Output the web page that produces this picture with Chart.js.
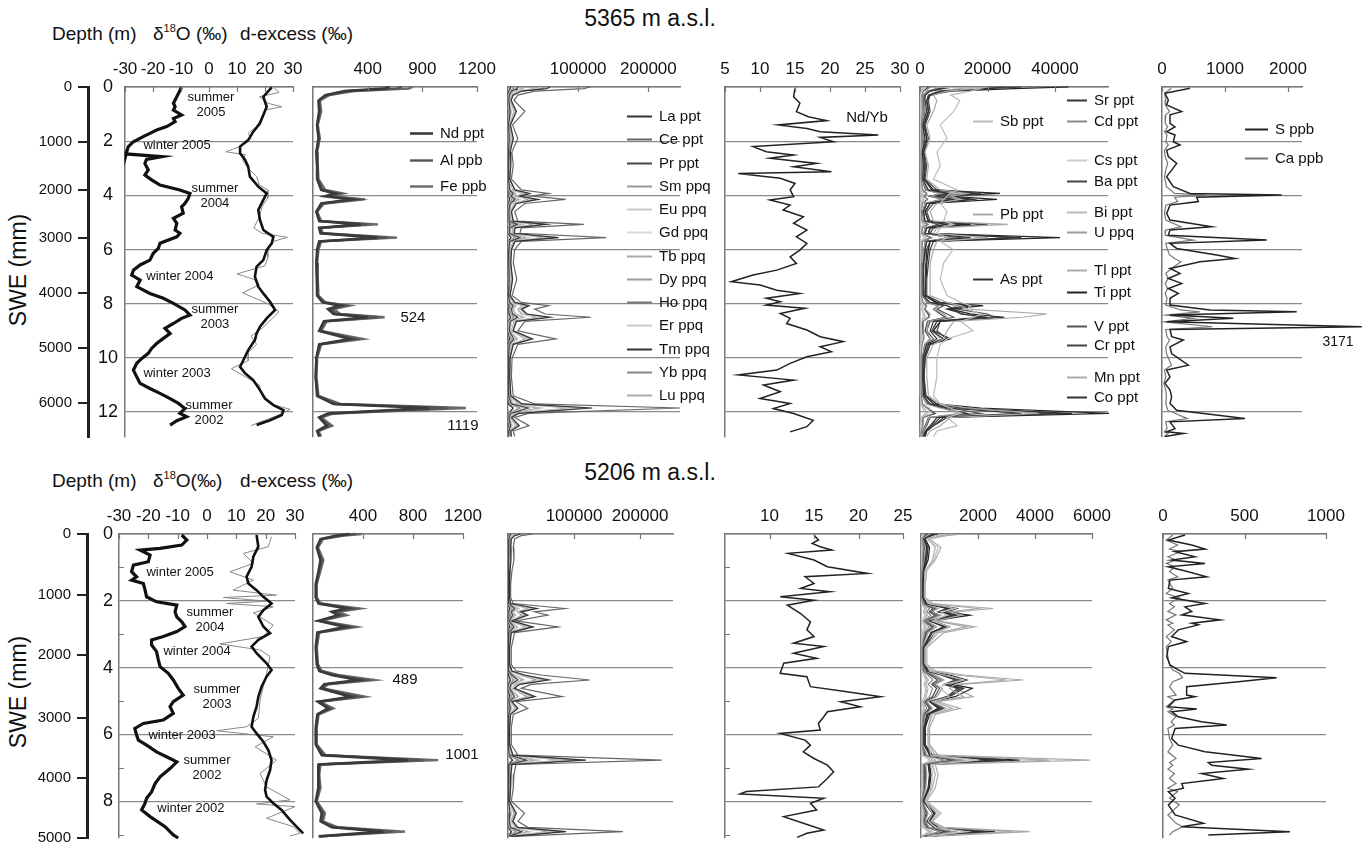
<!DOCTYPE html>
<html>
<head>
<meta charset="utf-8">
<script src="https://cdn.jsdelivr.net/npm/chart.js@4.4.0/dist/chart.umd.min.js"></script>
<style>
body{margin:0;background:#fff;width:1367px;height:849px;position:relative;overflow:hidden;font-family:"Liberation Sans",Arial,sans-serif;color:#111}
canvas{position:absolute}
.t{position:absolute;white-space:nowrap;line-height:1}
.c{transform:translate(-50%,-50%)}
.h{transform:translateY(-50%);font-size:19px}
.v{transform:translate(-50%,-50%) rotate(-90deg);font-size:23px}
.sup{font-size:11px;position:relative;top:-8px}
</style>
</head>
<body>
<div class="t c" style="left:650px;top:18px;font-size:23px">5365 m a.s.l.</div>
<div class="t h" style="left:52px;top:33px">Depth (m)</div>
<div class="t h" style="left:153px;top:33px">δ<span class="sup">18</span>O (‰)</div>
<div class="t h" style="left:240px;top:33px">d-excess (‰)</div>
<div class="t v" style="left:18px;top:270px">SWE (mm)</div>

<div class="t c" style="left:650px;top:472px;font-size:23px">5206 m a.s.l.</div>
<div class="t h" style="left:52px;top:480px">Depth (m)</div>
<div class="t h" style="left:153px;top:480px">δ<span class="sup">18</span>O(‰)</div>
<div class="t h" style="left:240px;top:480px">d-excess (‰)</div>
<div class="t v" style="left:18px;top:692px">SWE (mm)</div>

<script>
// ---------------- 5365 m a.s.l. (upper core) ----------------
const sweTicks5365 = [0, 1000, 2000, 3000, 4000, 5000, 6000];
const sweDepth5365 = [0, 2.03, 3.80, 5.58, 7.61, 9.64, 11.67];

const d18oDepth5365 = [0.01,0.36,0.60,0.73,0.85,1.03,1.16,1.28,1.46,1.59,1.71,1.83,2.02,2.20,2.39,2.47,2.57,2.67,2.82,3.06,3.25,3.43,3.62,3.80,3.93,4.11,4.30,4.42,4.66,4.85,5.03,5.28,5.40,5.53,5.77,5.96,6.14,6.39,6.57,6.76,6.94,7.13,7.37,7.62,7.80,7.99,8.23,8.42,8.54,8.73,8.91,9.10,9.28,9.47,9.65,9.83,10.02,10.20,10.45,10.70,10.94,11.13,11.31,11.50,11.68,11.87,12.05,12.17,12.32,12.48];
const d18o5365 = [-9.8,-11.5,-12.7,-12.1,-12.7,-9.8,-12.7,-12.1,-15.1,-18.7,-21.1,-23.5,-27.0,-28.8,-29.4,-29.6,-16.9,-22.3,-22.9,-21.7,-22.9,-20.5,-17.5,-10.4,-6.8,-7.4,-8.6,-9.8,-9.2,-12.7,-11.5,-12.1,-10.4,-11.5,-17.5,-18.1,-19.9,-21.1,-24.6,-27.0,-27.6,-24.6,-25.8,-21.1,-16.3,-12.7,-8.6,-6.8,-9.8,-12.7,-15.7,-13.9,-16.3,-18.7,-20.5,-21.7,-24.0,-25.8,-27.0,-25.8,-24.6,-21.1,-17.5,-13.9,-10.9,-8.6,-10.4,-8.0,-11.5,-13.9];

const dexDepth5365 = [0.01,0.36,0.73,1.03,1.34,1.65,1.96,2.20,2.45,2.69,2.94,3.31,3.68,3.93,4.17,4.54,4.91,5.28,5.53,5.77,6.02,6.39,6.63,7.00,7.37,7.62,7.93,8.23,8.54,8.85,9.10,9.34,9.71,10.08,10.33,10.57,10.82,11.19,11.50,11.74,11.93,12.11,12.30,12.48];
const dex5365 = [22.4,19.4,20.6,19.4,18.2,15.8,14.0,11.1,11.1,12.9,14.0,14.6,17.6,20.6,19.4,17.6,18.2,19.4,23.0,22.4,20.6,19.4,17.0,16.4,17.6,19.4,21.8,23.6,20.6,18.2,17.0,16.4,14.0,12.3,11.1,12.9,15.8,18.2,20.0,23.0,26.6,26.0,21.8,17.0];

const dexRawDepth5365 = [0.0,0.2,0.36,0.6,0.73,0.85,1.1,1.46,1.71,1.9,2.2,2.39,2.5,2.7,3.0,3.3,3.62,3.8,4.1,4.4,4.8,5.2,5.4,5.55,5.7,6.0,6.3,6.6,6.9,7.1,7.3,7.6,8.0,8.3,8.6,8.9,9.2,9.5,9.8,10.1,10.4,10.7,11.0,11.4,11.7,11.9,12.1,12.3,12.5];
const dexRaw5365 = [23,25,18,21,26,20,19,17,14,15,11,6,13,12,14,17,18,21,21,19,18,16,19,28,23,21,21,20,10,16,18,12,21,25,22,19,15,17,14,14,8,13,18,19,22,29,25,20,15];

const nodes5365 = [0,0.06,0.15,0.3,0.5,0.9,1.4,1.9,2.4,2.9,3.4,3.8,3.93,4.03,4.15,4.3,4.6,4.95,5.07,5.2,5.4,5.56,5.7,6.0,6.5,7.1,7.7,7.95,8.07,8.2,8.38,8.5,8.65,9.0,9.3,9.5,10.0,10.7,11.4,11.7,11.85,12.05,12.2,12.5,12.7,12.9];

const nd5365 = [560,520,230,90,40,45,30,40,25,30,30,60,160,90,280,60,25,45,350,45,55,470,45,30,25,28,30,70,200,110,150,400,80,45,270,45,25,20,30,150,850,110,45,100,30,45];
const al5365 = [650,610,260,100,45,50,30,45,25,30,35,70,190,100,330,70,25,50,400,50,60,540,50,35,25,30,35,80,230,130,170,470,90,50,310,50,25,20,35,170,980,130,50,120,35,50];
const fe5365 = [730,700,300,120,50,60,35,50,30,35,40,90,220,120,380,80,30,60,475,60,70,615,60,40,30,35,40,90,270,150,200,524,100,60,366,60,30,25,40,200,1119,150,60,140,40,60];

const la5365 = [60000,55000,20000,7000,4500,12000,3500,7500,3000,4000,2500,10000,31000,17000,43000,12000,5000,7500,55000,10000,9000,72000,10000,5000,4000,6500,3000,10000,30000,20000,27000,60000,12000,7500,35000,7500,3000,2500,4000,20000,120000,15000,5000,16000,4000,5000];
const ce5365 = [117000,108000,38000,14000,8500,24000,6500,14000,5500,7500,4800,19000,58000,33000,82000,24000,9500,14000,108000,19000,17000,140000,19000,9500,7500,12500,5800,19000,58000,38000,53000,118000,24000,14000,68000,14000,5800,4800,7500,38000,245000,29000,9500,30000,7500,9500];
const pr5365 = [14000,13000,5000,1800,1100,3000,800,1800,700,1000,600,2400,7200,4200,10000,3000,1200,1800,13000,2400,2200,17000,2400,1200,1000,1600,700,2400,7200,4800,6600,14000,3000,1800,8400,1800,700,600,1000,4800,29000,3600,1200,3700,1000,1200];
const sm5365 = [52000,50000,19000,7000,4000,11000,3000,7000,2500,3500,2200,9500,27000,16000,38000,11000,4500,7000,52000,9000,8000,64000,9000,4500,3500,6000,2700,9000,27000,18000,25000,56000,11000,7000,32000,7000,2700,2200,3500,18000,110000,14000,4500,14000,3500,4500];
const eu5365 = [11000,10500,4000,1500,900,2500,700,1500,600,800,500,2000,6000,3400,8500,2500,1000,1500,11000,2000,1800,14000,2000,1000,800,1300,600,2000,6000,4000,5500,12000,2500,1500,7000,1500,600,500,800,4000,24000,3000,1000,3100,800,1000];
const gd5365 = [46000,44000,16000,6000,3600,9500,2800,6000,2200,3000,2000,8000,24000,14000,34000,10000,4000,6000,44000,8000,7000,58000,8000,4000,3200,5200,2400,8000,24000,16000,22000,48000,10000,6000,28000,6000,2400,2000,3200,16000,98000,12000,4000,12500,3200,4000];
const tb5365 = [7000,6600,2400,900,500,1500,400,900,350,480,300,1200,3600,2100,5000,1500,600,900,6600,1200,1100,8600,1200,600,480,800,360,1200,3600,2400,3300,7200,1500,900,4200,900,360,300,480,2400,15000,1800,600,1900,480,600];
const dy5365 = [41000,38000,14000,5200,3100,8500,2400,5200,1900,2600,1700,7000,21000,12000,29000,8700,3500,5200,38000,7000,6300,50000,7000,3500,2800,4500,2100,7000,21000,14000,19000,42000,8700,5200,24500,5200,2100,1700,2800,14000,86000,10000,3500,11000,2800,3500];
const ho5365 = [8200,7700,2800,1000,600,1700,500,1000,400,560,350,1400,4200,2400,5900,1700,700,1000,7700,1400,1300,10000,1400,700,560,900,420,1400,4200,2800,3800,8400,1700,1000,4900,1000,420,350,560,2800,17000,2000,700,2200,560,700];
const er5365 = [23000,22000,8000,3000,1800,5000,1400,3000,1100,1500,1000,4000,12000,7000,17000,5000,2000,3000,22000,4000,3600,29000,4000,2000,1600,2600,1200,4000,12000,8000,11000,24000,5000,3000,14000,3000,1200,1000,1600,8000,49000,6000,2000,6200,1600,2000];
const tm5365 = [3500,3300,1200,450,270,750,200,450,170,240,150,600,1800,1050,2500,750,300,450,3300,600,540,4300,600,300,240,400,180,600,1800,1200,1650,3600,750,450,2100,450,180,150,240,1200,7400,900,300,930,240,300];
const yb5365 = [21000,19800,7200,2700,1600,4500,1300,2700,1000,1400,900,3600,10800,6300,15000,4500,1800,2700,19800,3600,3200,26000,3600,1800,1400,2300,1100,3600,10800,7200,10000,21600,4500,2700,12600,2700,1100,900,1400,7200,44000,5400,1800,5600,1400,1800];
const lu5365 = [3200,3000,1100,420,250,700,190,420,160,220,140,560,1700,980,2300,700,280,420,3000,560,500,4000,560,280,220,370,170,560,1700,1100,1500,3300,700,420,1950,420,170,140,220,1100,6900,840,280,870,220,280];

const ndybDepth5365 = [0.05,0.36,0.60,0.91,1.10,1.24,1.40,1.53,1.65,1.77,1.86,2.02,2.20,2.39,2.51,2.63,2.82,2.94,3.13,3.19,3.37,3.56,3.80,4.05,4.17,4.36,4.54,4.79,5.03,5.28,5.53,5.77,6.02,6.27,6.51,6.76,6.94,7.19,7.31,7.50,7.62,7.80,7.93,8.05,8.17,8.36,8.54,8.73,8.97,9.22,9.40,9.59,9.77,9.96,10.20,10.45,10.63,10.82,11.00,11.25,11.50,11.68,11.87,12.05,12.30,12.54,12.73];
const ndyb5365 = [15.0,14.8,15.7,15.2,16.9,19.5,12.6,16.7,18.6,26.9,18.6,20.5,9.0,10.9,14.8,11.4,18.1,14.8,20.2,6.9,12.9,15.0,14.3,14.8,11.4,14.3,13.3,16.2,14.8,16.7,15.2,16.7,15.7,14.3,15.2,12.4,9.0,5.9,10.0,12.4,15.7,10.9,12.9,10.9,16.4,12.9,14.3,13.8,16.7,18.6,21.9,18.6,20.2,16.7,14.3,12.4,6.9,14.8,10.5,12.9,10.0,14.3,11.9,14.8,17.6,16.7,14.3];

const sb5365 = [5000,17800,15000,9000,11800,10000,6000,8000,5000,6000,4000,11000,9000,8000,7000,6000,8000,7000,10000,6000,5000,8000,6000,9800,7000,6000,8000,12000,15000,14000,18000,16000,12000,15700,8000,6000,5000,5000,4000,6000,9000,12000,8000,11000,5000,4000];
const pb5365 = [20000,16000,8000,4000,5000,4000,2000,3000,1500,2500,2000,6000,14000,9000,12000,5000,3000,4000,26000,5000,4000,20000,5000,4000,3000,3000,3000,8000,12000,14000,37600,30500,10000,8000,7000,4000,2000,2000,2500,6000,14000,35000,9000,6000,3000,2000];
const as5365 = [8000,6000,3000,1500,1500,2000,800,1500,700,1000,800,2500,9000,5000,10000,2000,1000,1500,8000,2000,1500,15000,2000,1500,1000,1000,900,3000,8000,10000,12000,20000,4000,3000,5000,2000,900,800,1000,3000,8000,30000,5000,3000,1500,1000];
const sr5365 = [30000,20000,6000,2500,2000,2500,1200,2000,1000,1500,1200,3500,16000,7000,15000,3000,1500,2500,12000,3000,2500,30000,3000,2000,1800,1500,1500,4500,14000,8000,13000,18000,5000,3500,7000,2500,1200,1000,1500,4000,12000,45000,6000,3500,1800,1200];
const cd5365 = [3000,2500,1200,600,800,700,400,600,300,400,300,800,2000,1200,2200,700,400,600,2500,700,500,3500,700,600,500,400,400,900,2000,1500,3000,2500,1000,1000,1200,600,300,300,400,800,2000,4000,1000,900,400,300];
const cs5365 = [1500,1300,600,300,350,400,200,300,150,200,150,400,1100,700,1300,400,200,300,1500,400,300,2000,400,300,250,250,200,500,1200,800,1100,1800,500,400,900,300,150,150,200,600,3000,2500,600,400,200,150];
const ba5365 = [25000,18000,7000,3000,2500,3000,1500,2500,1200,2000,1500,5000,18000,9000,16000,4000,2000,3000,20000,4000,3000,28000,4000,3000,2500,2000,2000,6000,15000,11000,20000,22000,6000,5000,8000,3000,1500,1200,1800,5000,14000,40000,7000,4000,2000,1500];
const bi5365 = [800,700,350,200,250,200,100,150,80,120,100,250,600,400,700,250,150,200,900,250,200,1200,250,200,150,150,120,300,700,500,1000,900,350,300,400,200,100,100,120,300,800,1500,350,250,150,100];
const u5365 = [6000,5000,2500,1200,1200,1300,700,1000,600,800,700,1800,6000,3500,6500,1500,900,1200,7000,1500,1200,9000,1500,1200,1000,900,800,2200,5500,4000,7000,8000,2500,2000,3000,1500,700,600,800,2000,6000,12000,2500,1800,900,700];
const tl5365 = [1200,1000,500,250,300,300,150,250,120,180,150,400,1000,600,1100,350,200,300,1300,350,300,1800,350,300,250,200,200,450,1000,700,1300,1500,450,400,600,300,150,120,180,450,1200,2200,500,350,200,150];
const ti5365 = [44000,28000,9000,3000,2000,2500,1200,2000,1000,1500,1200,4000,23700,8000,22800,3000,1500,2500,15000,3000,2500,41500,3000,2500,2000,1800,1500,5000,18700,9000,15000,25000,6000,4000,9000,3000,1500,1200,1500,5000,18000,56000,8000,4000,2000,1500];
const v5365 = [10000,7000,3000,1500,1200,1500,800,1200,600,900,800,2000,8000,4000,8500,2000,1000,1500,7000,2000,1500,12000,2000,1500,1200,1000,1000,2500,7000,5000,8000,10000,3000,2000,4000,1800,900,800,1000,2500,9000,18000,3000,2000,1000,800];
const cr5365 = [7000,5000,2200,1100,1000,1200,600,900,500,700,600,1600,6000,3000,6500,1500,800,1200,5500,1500,1200,9000,1500,1200,1000,800,800,2000,5500,4000,6000,7500,2200,1500,3000,1400,700,600,800,2000,7000,14000,2500,1500,800,600];
const mn5365 = [18000,12000,5000,2500,2500,2500,1200,2000,1000,1500,1200,4000,12000,7000,12000,3000,1500,2500,14000,3000,2500,20000,3000,2500,2000,1800,1500,5000,11000,8000,16000,17000,5000,4000,6000,2500,1200,1000,1500,4000,11000,30000,5000,3500,1800,1200];
const co5365 = [2500,2000,900,450,400,500,250,400,200,300,250,700,2000,1200,2200,600,300,500,2300,600,500,3200,600,500,400,350,300,800,1900,1400,2400,2700,800,600,1000,500,250,200,300,700,2200,4500,800,600,300,250];

const scaDepth5365 = [0.05,0.23,0.48,0.66,0.91,1.03,1.34,1.47,1.65,1.77,2.02,2.14,2.33,2.57,2.82,3.07,3.31,3.68,3.93,3.99,4.07,4.23,4.36,4.67,4.91,5.16,5.28,5.47,5.65,5.77,5.96,6.20,6.33,6.45,6.70,6.88,7.07,7.25,7.44,7.62,7.80,8.05,8.23,8.30,8.42,8.54,8.67,8.85,8.95,9.22,9.34,9.59,9.84,10.27,10.45,10.70,10.94,11.19,11.44,11.68,11.93,12.24,12.36,12.61,12.73,12.79,12.9];
const s5365 = [444,48,100,74,312,127,127,206,74,206,180,286,74,100,233,153,74,180,444,1899,550,577,127,74,127,788,127,100,1661,127,233,868,1159,603,127,286,100,312,100,259,127,127,762,2138,127,1132,74,3171,127,153,339,127,153,418,74,127,48,127,153,127,233,1317,127,206,74,339,48];
const ca5365 = [150,40,60,50,120,60,50,90,40,80,60,100,40,50,90,60,40,70,200,700,200,250,60,40,60,300,60,50,500,60,80,120,200,300,150,60,100,50,90,50,80,60,300,600,60,500,40,800,60,80,120,60,70,150,40,60,30,60,70,60,90,400,60,80,40,100,30];

// ---------------- 5206 m a.s.l. (lower core) ----------------
const sweTicks5206 = [0, 1000, 2000, 3000, 4000, 5000];
const sweDepth5206 = [0, 1.83, 3.62, 5.51, 7.31, 9.10];

const d18oDepth5206 = [0.03,0.18,0.33,0.43,0.48,0.63,0.83,0.93,1.13,1.28,1.38,1.48,1.68,1.88,2.03,2.13,2.33,2.48,2.63,2.77,2.92,3.07,3.17,3.32,3.52,3.77,3.97,4.17,4.37,4.62,4.82,5.02,5.17,5.37,5.57,5.67,5.82,6.02,6.17,6.32,6.52,6.72,6.82,7.02,7.27,7.47,7.72,7.91,8.06,8.26,8.46,8.76,9.01,9.1];
const d18o5206 = [-8.6,-6.9,-8.6,-16.0,-22.8,-19.4,-20.0,-25.1,-25.7,-24.0,-25.7,-21.7,-21.1,-20.6,-17.2,-10.3,-10.9,-10.3,-8.6,-7.5,-10.3,-14.9,-18.9,-18.9,-17.2,-16.6,-16.0,-13.2,-11.5,-9.8,-8.1,-11.5,-12.6,-11.5,-14.9,-21.7,-24.6,-24.0,-23.4,-20.6,-17.2,-12.6,-10.3,-12.6,-16.0,-17.7,-18.9,-20.6,-21.1,-22.3,-19.4,-14.3,-11.5,-9.8];

const dexDepth5206 = [0.03,0.38,0.68,0.98,1.28,1.48,1.68,1.88,2.08,2.28,2.48,2.77,2.97,3.17,3.37,3.57,3.87,4.07,4.27,4.57,4.87,5.17,5.47,5.77,5.97,6.22,6.47,6.77,7.07,7.37,7.66,7.86,8.06,8.26,8.56,8.81,8.96];
const dex5206 = [16.9,17.5,15.8,15.2,13.5,14.1,16.9,19.2,22.0,19.2,17.5,19.2,21.5,17.5,15.2,16.9,20.3,22.0,20.3,18.6,17.5,16.9,15.8,15.2,16.9,19.2,20.9,22.0,21.5,20.3,19.8,20.3,22.6,25.4,28.3,31.1,32.8];

const dexRawDepth5206 = [0.08,0.38,0.58,0.88,1.13,1.38,1.68,1.83,1.90,2.01,2.08,2.18,2.36,2.73,3.07,3.29,3.47,3.67,4.17,4.57,4.97,5.52,5.77,5.89,6.07,6.37,6.77,7.17,7.57,7.96,8.08,8.16,8.51,8.76,8.96,9.04];
const dexRaw5206 = [22.0,20.9,12.4,15.8,7.8,15.8,8.9,23.7,5.6,20.3,6.7,22.6,15.8,22.6,19.2,4.4,18.1,21.5,20.3,19.2,18.1,17.5,13.5,3.3,22.6,16.4,23.7,18.1,20.3,28.3,16.9,30.0,20.3,29.4,31.7,28.3];

const nodes5206 = [0,0.05,0.15,0.4,0.78,1.1,1.5,1.9,2.08,2.23,2.33,2.43,2.6,2.78,2.95,3.4,3.9,4.1,4.22,4.37,4.5,4.62,4.87,5.02,5.22,5.4,5.8,6.3,6.62,6.77,6.9,7.2,7.6,8.0,8.36,8.6,8.78,8.91,9.05];

const nd5206 = [290,180,60,30,60,45,22,22,45,270,150,200,45,260,35,22,30,50,150,360,90,60,300,40,120,35,22,22,70,760,45,40,45,22,70,60,150,560,45];
const al5206 = [340,210,70,35,70,50,25,25,50,320,170,230,50,300,40,25,35,60,170,420,100,70,360,45,140,40,25,25,85,880,50,45,50,25,80,70,170,640,50];
const fe5206 = [389,250,80,40,83,60,30,30,60,376,200,269,60,349,50,30,40,70,200,489,120,80,416,55,163,45,30,30,100,1001,60,50,60,30,96,80,200,736,60];

const la5206 = [19000,10000,5000,4000,4500,3000,2000,2000,4000,44000,20000,30000,6000,38000,5000,2500,2500,6000,25000,62000,18000,10000,41000,6000,15000,4000,2500,2500,7500,118000,6000,4500,4000,2500,12500,7500,15000,88000,5000];
const ce5206 = [38000,20000,10000,8000,9000,6000,4000,4000,8000,86000,40000,60000,12000,76000,10000,5000,5000,12000,50000,124000,35000,20000,82000,12000,30000,8000,5000,5000,15000,233000,12000,9000,8000,5000,25000,15000,30000,174000,10000];
const pr5206 = [4600,2400,1200,1000,1100,700,500,500,1000,10300,4800,7200,1400,9100,1200,600,600,1400,6000,14900,4200,2400,9800,1400,3600,1000,600,600,1800,28000,1400,1100,1000,600,3000,1800,3600,20900,1200];
const sm5206 = [17000,9000,4500,3600,4000,2700,1800,1800,3600,39000,18000,27000,5400,34000,4500,2200,2200,5400,22000,56000,16000,9000,37000,5400,13500,3600,2200,2200,6700,105000,5400,4000,3600,2200,11000,6700,13500,78000,4500];
const eu5206 = [3800,2000,1000,800,900,600,400,400,800,8600,4000,6000,1200,7600,1000,500,500,1200,5000,12400,3500,2000,8200,1200,3000,800,500,500,1500,23300,1200,900,800,500,2500,1500,3000,17400,1000];
const gd5206 = [15000,8000,4000,3200,3600,2400,1600,1600,3200,34000,16000,24000,4800,30000,4000,2000,2000,4800,20000,50000,14000,8000,33000,4800,12000,3200,2000,2000,6000,93000,4800,3600,3200,2000,10000,6000,12000,70000,4000];
const tb5206 = [2300,1200,600,480,540,360,240,240,480,5200,2400,3600,720,4600,600,300,300,720,3000,7400,2100,1200,4900,720,1800,480,300,300,900,14000,720,540,480,300,1500,900,1800,10400,600];
const dy5206 = [13000,7000,3500,2800,3100,2100,1400,1400,2800,30000,14000,21000,4200,26600,3500,1750,1750,4200,17500,43000,12000,7000,28700,4200,10500,2800,1750,1750,5200,81500,4200,3100,2800,1750,8700,5200,10500,61000,3500];
const ho5206 = [2700,1400,700,560,630,420,280,280,560,6000,2800,4200,840,5300,700,350,350,840,3500,8700,2450,1400,5700,840,2100,560,350,350,1050,16300,840,630,560,350,1750,1050,2100,12200,700];
const er5206 = [7600,4000,2000,1600,1800,1200,800,800,1600,17000,8000,12000,2400,15000,2000,1000,1000,2400,10000,25000,7000,4000,16400,2400,6000,1600,1000,1000,3000,46600,2400,1800,1600,1000,5000,3000,6000,35000,2000];
const tm5206 = [1100,600,300,240,270,180,120,120,240,2600,1200,1800,360,2300,300,150,150,360,1500,3700,1050,600,2500,360,900,240,150,150,450,7000,360,270,240,150,750,450,900,5200,300];
const yb5206 = [6800,3600,1800,1400,1600,1100,700,700,1400,15500,7200,10800,2200,13700,1800,900,900,2200,9000,22300,6300,3600,14800,2200,5400,1400,900,900,2700,42000,2200,1600,1400,900,4500,2700,5400,31300,1800];
const lu5206 = [1000,550,280,220,250,170,110,110,220,2400,1100,1700,330,2100,280,140,140,330,1400,3500,1000,550,2300,330,840,220,140,140,420,6500,330,250,220,140,700,420,840,4900,280];

const ndybDepth5206 = [0.03,0.18,0.28,0.38,0.48,0.58,0.78,0.98,1.18,1.28,1.48,1.63,1.73,1.88,1.98,2.13,2.38,2.63,2.87,3.07,3.27,3.37,3.57,3.72,3.87,4.17,4.27,4.57,4.72,4.87,5.02,5.17,5.32,5.47,5.67,5.87,5.97,6.17,6.32,6.52,6.72,6.92,7.12,7.32,7.57,7.71,7.78,7.91,8.06,8.26,8.46,8.66,8.86,8.96,9.08];
const ndyb5206 = [15.0,15.5,14.8,15.7,17.0,12.1,15.0,16.5,21.0,14.0,15.0,13.5,16.8,11.2,15.0,12.0,13.5,14.6,14.2,15.0,12.7,16.1,12.7,15.3,11.6,11.2,14.2,14.6,18.7,22.5,18.0,20.2,16.5,16.1,15.5,15.7,11.2,14.0,14.6,13.8,15.0,16.5,17.2,16.5,15.5,7.4,6.7,16.1,14.6,15.3,11.6,13.8,16.1,14.2,13.1];

const sb5206 = [900,500,200,600,450,200,150,150,250,1200,700,900,400,1000,500,200,200,300,800,1500,800,700,1000,400,900,350,250,250,350,2000,350,400,350,150,400,250,500,1600,200];
const pb5206 = [1100,700,250,500,400,150,120,120,300,2000,1000,1430,500,1600,600,150,150,400,1200,3000,1200,1000,1500,500,1100,400,250,250,500,4500,400,500,400,150,600,350,700,3200,250];
const as5206 = [400,300,100,200,150,80,60,60,150,900,600,1100,300,800,350,80,80,200,700,1200,800,1300,900,300,600,200,100,100,300,2500,250,300,250,80,400,200,450,2000,150];
const sr5206 = [500,350,120,250,200,90,70,70,180,1000,700,1300,350,900,400,90,90,250,800,1400,900,1500,1000,350,700,250,120,120,350,3000,280,320,280,90,450,250,500,2300,180];
const cd5206 = [150,100,40,80,60,30,25,25,50,300,200,350,100,280,120,30,30,70,250,420,250,400,300,100,200,80,40,40,100,800,80,100,80,30,130,80,150,650,50];
const cs5206 = [80,60,25,50,40,20,15,15,30,180,120,200,60,160,70,20,20,40,150,250,150,230,170,60,120,50,25,25,60,450,50,60,50,20,80,50,90,380,30];
const ba5206 = [450,300,110,220,180,80,60,60,160,950,650,1200,320,850,380,80,80,230,750,1300,850,1400,950,320,650,230,110,110,320,2800,260,300,260,80,420,230,470,2200,170];
const bi5206 = [60,40,15,30,25,12,10,10,20,120,80,140,40,110,50,12,12,30,100,170,100,160,120,40,80,30,15,15,40,320,35,40,35,12,55,30,60,260,20];
const u5206 = [300,200,70,150,120,50,40,40,100,600,400,700,200,550,250,50,50,150,500,800,500,750,550,200,400,150,70,70,200,1500,170,200,170,50,250,150,300,1200,100];
const tl5206 = [100,70,25,50,40,18,15,15,35,200,130,230,70,180,80,18,18,50,160,260,160,240,180,70,130,50,25,25,70,500,55,65,55,18,85,50,100,400,35];
const ti5206 = [600,400,150,300,250,100,80,80,200,1260,900,1720,400,1000,500,100,100,300,1000,1610,1100,1800,1200,400,800,300,150,150,400,3470,300,350,300,100,500,300,600,2600,200];
const v5206 = [250,170,60,120,100,45,35,35,90,500,350,600,170,450,200,45,45,120,400,700,450,650,480,170,350,120,60,60,170,1300,140,170,140,45,220,120,250,1000,90];
const cr5206 = [200,140,50,100,80,35,30,30,70,420,290,500,140,380,170,35,35,100,330,580,380,550,400,140,290,100,50,50,140,1100,120,140,120,35,180,100,210,850,70];
const mn5206 = [1500,900,300,700,500,200,150,150,400,2530,1200,1500,600,1900,800,200,200,500,1500,3580,1400,1200,1830,600,1370,500,300,300,600,5930,500,600,500,200,700,400,800,3820,300];
const co5206 = [90,60,22,45,35,16,13,13,30,180,120,210,60,160,70,16,16,45,140,240,160,230,170,60,120,45,22,22,60,460,50,60,50,16,75,45,90,360,30];

const scaDepth5206 = [0.03,0.18,0.33,0.45,0.53,0.68,0.78,0.88,0.98,1.13,1.28,1.38,1.63,1.78,1.91,2.08,2.18,2.32,2.42,2.57,2.67,2.72,2.87,3.07,3.22,3.37,3.67,3.92,4.07,4.17,4.30,4.42,4.57,4.82,4.87,4.97,5.17,5.24,5.32,5.47,5.62,5.72,5.82,6.12,6.32,6.52,6.72,6.84,6.92,7.04,7.17,7.32,7.47,7.61,7.71,7.91,8.11,8.41,8.66,8.76,8.91,9.01];
const s5206 = [135,33,176,258,74,196,53,258,33,155,268,43,33,155,53,258,135,176,115,350,176,217,94,53,145,33,23,43,94,135,697,462,145,145,196,74,33,207,53,94,237,391,74,53,94,258,605,278,299,524,237,370,115,125,33,74,33,74,248,115,779,278];
const ca5206 = [60,20,90,40,110,30,80,20,70,40,90,30,60,20,100,40,70,30,80,20,60,30,70,20,50,20,30,40,60,100,120,60,40,80,30,70,20,60,30,80,50,70,30,40,60,30,80,40,60,30,70,40,80,30,90,40,100,30,80,120,60,40];

// ---------------- axis ticks and labels ----------------
const isoTicks = [-30, -20, -10, 0, 10, 20, 30];
const ndTicks = [400, 800, 1200];
const ndTickText5365 = ['400', '900', '1200'];
const ndTickText5206 = ['400', '800', '1200'];
const reeTicks = [100000, 200000];
const ndybTicks5365 = [5, 10, 15, 20, 25, 30];
const ndybTicks5206 = [10, 15, 20, 25];
const elemTicks5365 = [0, 20000, 40000];
const elemTicks5206 = [2000, 4000, 6000];
const scaTicks5365 = [0, 1000, 2000];
const scaTicks5206 = [0, 500, 1000];

// ---------------- names and annotations ----------------
const reeNames = ['La ppt','Ce ppt','Pr ppt','Sm ppq','Eu ppq','Gd ppq','Tb ppq','Dy ppq','Ho ppq','Er ppq','Tm ppq','Yb ppq','Lu ppq'];
const elemNames = ['Sb ppt','Pb ppt','As ppt','Sr ppt','Cd ppt','Cs ppt','Ba ppt','Bi ppt','U ppq','Tl ppt','Ti ppt','V ppt','Cr ppt','Mn ppt','Co ppt'];
const seasons5365 = ['summer\n2005','winter 2005','summer\n2004','winter 2004','summer\n2003','winter 2003','summer\n2002'];
const seasonAt5365 = [[0.7,0.68],[-11.4,2.14],[2.1,4.02],[-10.4,7.0],[2.1,8.5],[-11.4,10.57],[0,12.03]];
const seasons5206 = ['winter 2005','summer\n2004','winter 2004','summer\n2003','winter 2003','summer\n2002','winter 2002'];
const seasonAt5206 = [[-9.2,1.14],[1.0,2.57],[-3.4,3.5],[3.4,4.88],[-8.5,6.02],[0,6.99],[-5.5,8.2]];

// ---------------- drawing ----------------
const FONT = '"Liberation Sans", Arial, sans-serif';
Chart.defaults.font.family = FONT;
Chart.defaults.color = '#111';

const reeColors = ['#333','#666','#444','#999','#c8c8c8','#d8d8d8','#aaa','#999','#777','#c8c8c8','#333','#888','#aaa'];
const elemColors = ['#bbb','#aaa','#333','#333','#888','#ccc','#444','#bbb','#999','#aaa','#222','#555','#444','#aaa','#333'];

function pairs(depths, values) {
  return values.map((v, i) => ({ x: v, y: depths[i] }));
}

function decor(o) {
  return {
    id: 'decor',
    afterDraw(chart) {
      const { ctx, chartArea: a } = chart;
      const xs = chart.scales.x, ys = chart.scales.y;
      ctx.save();
      ctx.strokeStyle = '#777';
      ctx.lineWidth = 1.2;
      ctx.beginPath();
      o.ticks.forEach(v => {
        const px = Math.round(xs.getPixelForValue(v)) + 0.5;
        ctx.moveTo(px, a.top);
        ctx.lineTo(px, a.top + 5);
      });
      if (o.oddTicks) {
        for (let d = 1; d < o.dmax; d += 2) {
          const py = Math.round(ys.getPixelForValue(d)) + 0.5;
          ctx.moveTo(a.left, py);
          ctx.lineTo(a.left + 5, py);
        }
      }
      ctx.stroke();

      ctx.fillStyle = '#111';
      ctx.textBaseline = 'middle';
      (o.notes || []).forEach(n => {
        ctx.font = n.size + 'px ' + FONT;
        ctx.textAlign = 'center';
        const lines = n.text.split('\n');
        const px = xs.getPixelForValue(n.x), py = ys.getPixelForValue(n.d);
        lines.forEach((t, i) => ctx.fillText(t, px, py + (i - (lines.length - 1) / 2) * (n.size + 2)));
      });

      (o.legend || []).forEach(g => {
        g.names.forEach((name, i) => {
          const s = o.series.find(q => q.name === name);
          const y = Math.round(a.top + g.y[i]) + 0.5;
          ctx.strokeStyle = s.c;
          ctx.lineWidth = Math.max(s.w || 1.2, 2);
          ctx.beginPath();
          ctx.moveTo(a.left + g.x, y);
          ctx.lineTo(a.left + g.x + g.len, y);
          ctx.stroke();
          ctx.font = '15px ' + FONT;
          ctx.textAlign = 'left';
          ctx.fillText(name, a.left + g.x + g.len + 7, y);
        });
      });
      ctx.restore();
    }
  };
}

function panel(o) {
  const [L, T, W, H] = o.box;
  const lead = o.swe ? L : 4;
  const tail = o.padR || 40;
  const cv = document.createElement('canvas');
  cv.width = W + lead + tail;
  cv.height = H + 30 + 12;
  cv.style.left = (L - lead) + 'px';
  cv.style.top = (T - 30) + 'px';
  document.body.appendChild(cv);

  const flat = s => { s.paddingLeft = 0; s.paddingRight = 0; s.paddingTop = 0; s.paddingBottom = 0; };
  const scales = {
    x: {
      type: 'linear', position: 'top', min: o.xmin, max: o.xmax,
      afterBuildTicks: s => { s.ticks = o.ticks.map(v => ({ value: v })); },
      afterFit: s => { s.height = 30; flat(s); },
      ticks: { autoSkip: false, maxRotation: 0, minRotation: 0, padding: 7, font: { size: 17 }, color: '#111',
               callback: (v, i) => o.tickText[i] },
      grid: { display: false, drawTicks: false },
      border: { color: '#777', width: 1.5 }
    },
    y: {
      type: 'linear', position: 'left', reverse: true, min: 0, max: o.dmax, weight: 0,
      afterFit: s => { s.width = o.swe ? o.depthW : 0; flat(s); },
      ticks: { display: !!o.swe, stepSize: 2, includeBounds: false, crossAlign: 'center',
               padding: o.depthPad || 0, font: { size: 18 }, color: '#111' },
      grid: { color: '#8a8a8a', lineWidth: 1.2, drawTicks: false },
      border: { color: '#777', width: 1.5 }
    }
  };
  if (o.swe) {
    scales.swe = {
      type: 'linear', position: 'left', reverse: true, min: 0, max: o.dmax, weight: 1,
      afterBuildTicks: s => { s.ticks = o.swe.depth.map(v => ({ value: v })); },
      afterFit: s => { s.width = L - o.depthW; flat(s); },
      ticks: { autoSkip: false, padding: 6, font: { size: 15 }, color: '#111',
               callback: (v, i) => String(o.swe.labels[i]) },
      grid: { drawOnChartArea: false, drawTicks: true, tickLength: 10, color: '#222', lineWidth: 2 },
      border: { color: '#222', width: 3 }
    };
  }

  new Chart(cv, {
    type: 'scatter',
    data: {
      datasets: o.series.map(s => ({
        label: s.name, data: pairs(s.d, s.v), borderColor: s.c, borderWidth: s.w || 1.2,
        showLine: true, pointRadius: 0, tension: 0, clip: false
      }))
    },
    options: {
      responsive: false, animation: false, devicePixelRatio: 1,
      layout: { autoPadding: false, padding: { left: o.swe ? 0 : 4, right: tail, top: 0, bottom: 12 } },
      plugins: { legend: { display: false }, tooltip: { enabled: false } },
      scales
    },
    plugins: [decor(o)]
  });
}

function group(depths, names, values, colors, w) {
  return names.map((n, i) => ({ name: n, d: depths, v: values[i], c: colors[i], w }));
}

const ree5365 = [la5365, ce5365, pr5365, sm5365, eu5365, gd5365, tb5365, dy5365, ho5365, er5365, tm5365, yb5365, lu5365];
const ree5206 = [la5206, ce5206, pr5206, sm5206, eu5206, gd5206, tb5206, dy5206, ho5206, er5206, tm5206, yb5206, lu5206];
const elem5365 = [sb5365, pb5365, as5365, sr5365, cd5365, cs5365, ba5365, bi5365, u5365, tl5365, ti5365, v5365, cr5365, mn5365, co5365];
const elem5206 = [sb5206, pb5206, as5206, sr5206, cd5206, cs5206, ba5206, bi5206, u5206, tl5206, ti5206, v5206, cr5206, mn5206, co5206];

const TOP = { T: 87, H: 350, dmax: 12.92 };
const BOT = { T: 534, H: 304, dmax: 9.1 };

// ---- upper row ----
panel({
  box: [125, TOP.T, 168, TOP.H], dmax: TOP.dmax, xmin: -30, xmax: 30, ticks: isoTicks, tickText: isoTicks.map(String),
  swe: { depth: sweDepth5365, labels: sweTicks5365 }, depthW: 37, depthPad: 7, padR: 20,
  series: [
    { name: 'd18O', d: d18oDepth5365, v: d18o5365, c: '#111', w: 3.2 },
    { name: 'dex', d: dexDepth5365, v: dex5365, c: '#111', w: 2.6 },
    { name: 'dexRaw', d: dexRawDepth5365, v: dexRaw5365, c: '#888', w: 1 }
  ],
  notes: seasons5365.map((t, i) => ({ text: t, x: seasonAt5365[i][0], d: seasonAt5365[i][1], size: 13 }))
});
panel({
  box: [313, TOP.T, 164, TOP.H], dmax: TOP.dmax, xmin: 0, xmax: 1200, ticks: ndTicks, tickText: ndTickText5365,
  series: [
    { name: 'Nd ppt', d: nodes5365, v: nd5365, c: '#3a3a3a', w: 2.6 },
    { name: 'Al ppb', d: nodes5365, v: al5365, c: '#555', w: 2.4 },
    { name: 'Fe ppb', d: nodes5365, v: fe5365, c: '#6a6a6a', w: 2.4 }
  ],
  notes: [{ text: '524', x: 731, d: 8.53, size: 15 }, { text: '1119', x: 1097, d: 12.52, size: 15 }],
  legend: [{ x: 97, len: 23, names: ['Nd ppt', 'Al ppb', 'Fe ppb'], y: [46, 73, 99] }]
});
panel({
  box: [508, TOP.T, 172, TOP.H], dmax: TOP.dmax, xmin: 0, xmax: 245000, ticks: reeTicks, tickText: reeTicks.map(String),
  series: group(nodes5365, reeNames, ree5365, reeColors, 1.2),
  legend: [{ x: 119, len: 25, names: reeNames, y: reeNames.map((n, i) => 29 + i * 23.25) }]
});
panel({
  box: [725, TOP.T, 175, TOP.H], dmax: TOP.dmax, xmin: 5, xmax: 30, ticks: ndybTicks5365, tickText: ndybTicks5365.map(String),
  series: [{ name: 'Nd/Yb', d: ndybDepth5365, v: ndyb5365, c: '#222', w: 1.5 }],
  notes: [{ text: 'Nd/Yb', x: 25.3, d: 1.14, size: 15 }]
});
panel({
  box: [920, TOP.T, 188, TOP.H], dmax: TOP.dmax, xmin: 0, xmax: 55700, ticks: elemTicks5365, tickText: elemTicks5365.map(String),
  series: group(nodes5365, elemNames, elem5365, elemColors, 1.2),
  legend: [
    { x: 53, len: 20, names: ['Sb ppt', 'Pb ppt', 'As ppt'], y: [34, 127, 192] },
    { x: 147, len: 20, names: elemNames.slice(3), y: [13, 34, 73, 94, 125, 145, 183, 205, 239, 258, 290, 310] }
  ]
});
panel({
  box: [1162, TOP.T, 140, TOP.H], dmax: TOP.dmax, xmin: 0, xmax: 2222, ticks: scaTicks5365, tickText: scaTicks5365.map(String), padR: 65,
  series: [
    { name: 'S ppb', d: scaDepth5365, v: s5365, c: '#222', w: 1.5 },
    { name: 'Ca ppb', d: scaDepth5365, v: ca5365, c: '#777', w: 1.2 }
  ],
  notes: [{ text: '3171', x: 2794, d: 9.42, size: 14 }],
  legend: [{ x: 83, len: 23, names: ['S ppb', 'Ca ppb'], y: [42, 71] }]
});

// ---- lower row ----
panel({
  box: [119, BOT.T, 176, BOT.H], dmax: BOT.dmax, xmin: -30, xmax: 30, ticks: isoTicks, tickText: isoTicks.map(String),
  swe: { depth: sweDepth5206, labels: sweTicks5206 }, depthW: 32, depthPad: 6, padR: 20, oddTicks: true,
  series: [
    { name: 'd18O', d: d18oDepth5206, v: d18o5206, c: '#111', w: 3.2 },
    { name: 'dex', d: dexDepth5206, v: dex5206, c: '#111', w: 2.6 },
    { name: 'dexRaw', d: dexRawDepth5206, v: dexRaw5206, c: '#888', w: 1 }
  ],
  notes: seasons5206.map((t, i) => ({ text: t, x: seasonAt5206[i][0], d: seasonAt5206[i][1], size: 13 }))
});
panel({
  box: [313, BOT.T, 150, BOT.H], dmax: BOT.dmax, xmin: 0, xmax: 1200, ticks: ndTicks, tickText: ndTickText5206,
  series: [
    { name: 'Nd ppt', d: nodes5206, v: nd5206, c: '#3a3a3a', w: 2.6 },
    { name: 'Al ppb', d: nodes5206, v: al5206, c: '#555', w: 2.4 },
    { name: 'Fe ppb', d: nodes5206, v: fe5206, c: '#6a6a6a', w: 2.4 }
  ],
  notes: [{ text: '489', x: 736, d: 4.37, size: 15 }, { text: '1001', x: 1192, d: 6.62, size: 15 }]
});
panel({
  box: [508, BOT.T, 165, BOT.H], dmax: BOT.dmax, xmin: 0, xmax: 250000, ticks: reeTicks, tickText: reeTicks.map(String),
  series: group(nodes5206, reeNames, ree5206, reeColors, 1.2)
});
panel({
  box: [725, BOT.T, 178, BOT.H], dmax: BOT.dmax, xmin: 5, xmax: 25, ticks: ndybTicks5206, tickText: ndybTicks5206.map(String), oddTicks: true,
  series: [{ name: 'Nd/Yb', d: ndybDepth5206, v: ndyb5206, c: '#222', w: 1.5 }]
});
panel({
  box: [921, BOT.T, 171, BOT.H], dmax: BOT.dmax, xmin: 0, xmax: 6000, ticks: elemTicks5206, tickText: elemTicks5206.map(String),
  series: group(nodes5206, elemNames, elem5206, elemColors, 1.2)
});
panel({
  box: [1163, BOT.T, 163, BOT.H], dmax: BOT.dmax, xmin: 0, xmax: 1000, ticks: scaTicks5206, tickText: scaTicks5206.map(String),
  series: [
    { name: 'S ppb', d: scaDepth5206, v: s5206, c: '#222', w: 1.5 },
    { name: 'Ca ppb', d: scaDepth5206, v: ca5206, c: '#777', w: 1.2 }
  ]
});
</script>
</body>
</html>
